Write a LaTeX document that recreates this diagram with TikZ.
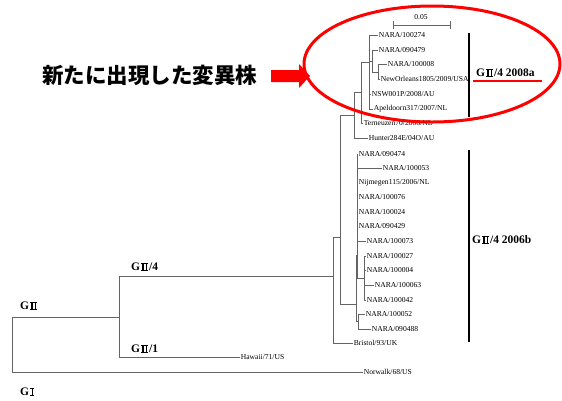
\documentclass[tikz,border=0pt]{standalone}
\usepackage{fontspec}
\setmainfont{Liberation Serif}
\newfontfamily\cjkfont{Noto Sans CJK JP}
% Mincho-like roman numerals built from rules
\newcommand\rtwo{\kern0.08em\rlap{\rule{0.62em}{0.07em}}\rlap{\raisebox{0.61em}{\rule{0.62em}{0.07em}}}\kern0.12em\rule{0.1em}{0.68em}\kern0.18em\rule{0.1em}{0.68em}\kern0.12em\kern0.08em}
\newcommand\rone{\kern0.08em\rlap{\rule{0.36em}{0.07em}}\rlap{\raisebox{0.61em}{\rule{0.36em}{0.07em}}}\kern0.13em\rule{0.1em}{0.68em}\kern0.13em\kern0.08em}
\newcommand\gtwo{G\rtwo}
\newcommand\gone{G\rone}
\definecolor{treegray}{RGB}{100,100,100}
\begin{document}
\begin{tikzpicture}[x=1pt,y=-1pt,
  tree/.style={draw=treegray, line width=0.8pt},
  leaf/.style={anchor=west, inner sep=0.6pt, font=\fontsize{7.6}{8}\selectfont},
  clade/.style={anchor=west, inner sep=0pt, font=\bfseries\fontsize{11.5}{13}\selectfont},
  bar/.style={draw=black, line width=1.8pt}]
\useasboundingbox (0,0) rectangle (562,400);
\fill[white] (0,0) rectangle (562,400);

% leaves
\node[leaf] (l1)  at (378,35)  {NARA/100274};
\node[leaf] (l2)  at (378,50)  {NARA/090479};
\node[leaf] (l3)  at (387,64)  {NARA/100008};
\node[leaf] (l4)  at (380,79)  {NewOrleans1805/2009/USA};
\node[leaf] (l5)  at (371,94)  {NSW001P/2008/AU};
\node[leaf] (l6)  at (373,109) {Apeldoorn317/2007/NL};
\node[leaf] (l7)  at (363,123) {Terneuzen70/2006/NL};
\node[leaf] (l8)  at (368,138) {Hunter284E/04O/AU};
\node[leaf] (l9)  at (358,154) {NARA/090474};
\node[leaf] (l10) at (382,168) {NARA/100053};
\node[leaf] (l11) at (358,183) {Nijmegen115/2006/NL};
\node[leaf] (l12) at (358,197) {NARA/100076};
\node[leaf] (l13) at (358,212) {NARA/100024};
\node[leaf] (l14) at (358,226) {NARA/090429};
\node[leaf] (l15) at (366,241) {NARA/100073};
\node[leaf] (l16) at (366,256) {NARA/100027};
\node[leaf] (l17) at (366,270) {NARA/100004};
\node[leaf] (l18) at (374,285) {NARA/100063};
\node[leaf] (l19) at (366,300) {NARA/100042};
\node[leaf] (l20) at (365,314) {NARA/100052};
\node[leaf] (l21) at (371,329) {NARA/090488};
\node[leaf] (l22) at (353,343) {Bristol/93/UK};
\node[leaf] (lhaw) at (240,357) {Hawaii/71/US};
\node[leaf] (lnor) at (363,372) {Norwalk/68/US};

% internal nodes
\coordinate (P1) at (378,72);
\coordinate (Q)  at (372,61);
\coordinate (R)  at (369,62);
\coordinate (S)  at (361,92);
\coordinate (T)  at (354,115);
\coordinate (U)  at (340,237);
\coordinate (B)  at (356,304);
\coordinate (B1) at (357,255);
\coordinate (C1) at (364,278);
\coordinate (B2) at (358,321);
\coordinate (V)  at (333,276);
\coordinate (G2) at (119,317);
\coordinate (Rt) at (12,345);

% branches
\draw[tree] (P1) |- (l3.west);  \draw[tree] (P1) |- (l4.west);
\draw[tree] (Q) |- (l2.west);   \draw[tree] (Q) |- (P1);
\draw[tree] (R) |- (l1.west);   \draw[tree] (R) |- (Q);
\draw[tree] (R) |- (l5.west);   \draw[tree] (R) |- (l6.west);
\draw[tree] (S) |- (R);         \draw[tree] (S) |- (l7.west);
\draw[tree] (T) |- (S);         \draw[tree] (T) |- (l8.west);
\draw[tree] (U) |- (T);         \draw[tree] (U) |- (B);
\draw[tree] (B) |- (B1);        \draw[tree] (B) |- (B2);
\foreach \n in {l9,l10,l11,l12,l13,l14,l15} {\draw[tree] (B1) |- (\n.west);}
\draw[tree] (B1) |- (C1);
\foreach \n in {l16,l17,l18,l19} {\draw[tree] (C1) |- (\n.west);}
\draw[tree] (B2) |- (l20.west); \draw[tree] (B2) |- (l21.west);
\draw[tree] (V) |- (U);         \draw[tree] (V) |- (l22.west);
\draw[tree] (G2) |- (V);        \draw[tree] (G2) |- (lhaw.west);
\draw[tree] (Rt) |- (G2);       \draw[tree] (Rt) |- (lnor.west);

% scale bar
\coordinate (sb1) at (393,25);
\coordinate (sb2) at (450,25);
\draw[tree] (sb1) -- (sb2);
\draw[tree] (sb1) ++(0,-4) -- ++(0,8);
\draw[tree] (sb2) ++(0,-4) -- ++(0,8);
\node[font=\fontsize{7.6}{8}\selectfont, inner sep=0pt] (sbl) at (421,17) {0.05};

% group labels
\node[clade] (gII) at (20,306) {\gtwo};
\node[clade] (gI)  at (20,392) {\gone};
\node[clade] (g4)  at (131,267) {\gtwo/4};
\node[clade] (g1)  at (131,349) {\gtwo/1};

% clade bars and labels
\draw[bar] (469,33) -- (469,117);
\draw[bar] (469,150) -- (469,342);
\node[clade] (c8a) at (476,73) {\gtwo/4 2008a};
\node[clade] (c6b) at (472,240) {\gtwo/4 2006b};
\draw[red, line width=2.5pt] (473,81) -- (542,81);

% highlight
\draw[red, line width=3pt] (432,64) ellipse [x radius=128pt, y radius=58pt];
\fill[red] (271,70) -- (299,70) -- (299,64) -- (310,76) -- (299,88) -- (299,82) -- (271,82) -- cycle;
\node[anchor=west, inner sep=0pt, font=\cjkfont\bfseries\fontsize{21.5}{24}\selectfont] (jp) at (42,75) {新たに出現した変異株};
\end{tikzpicture}
\end{document}
